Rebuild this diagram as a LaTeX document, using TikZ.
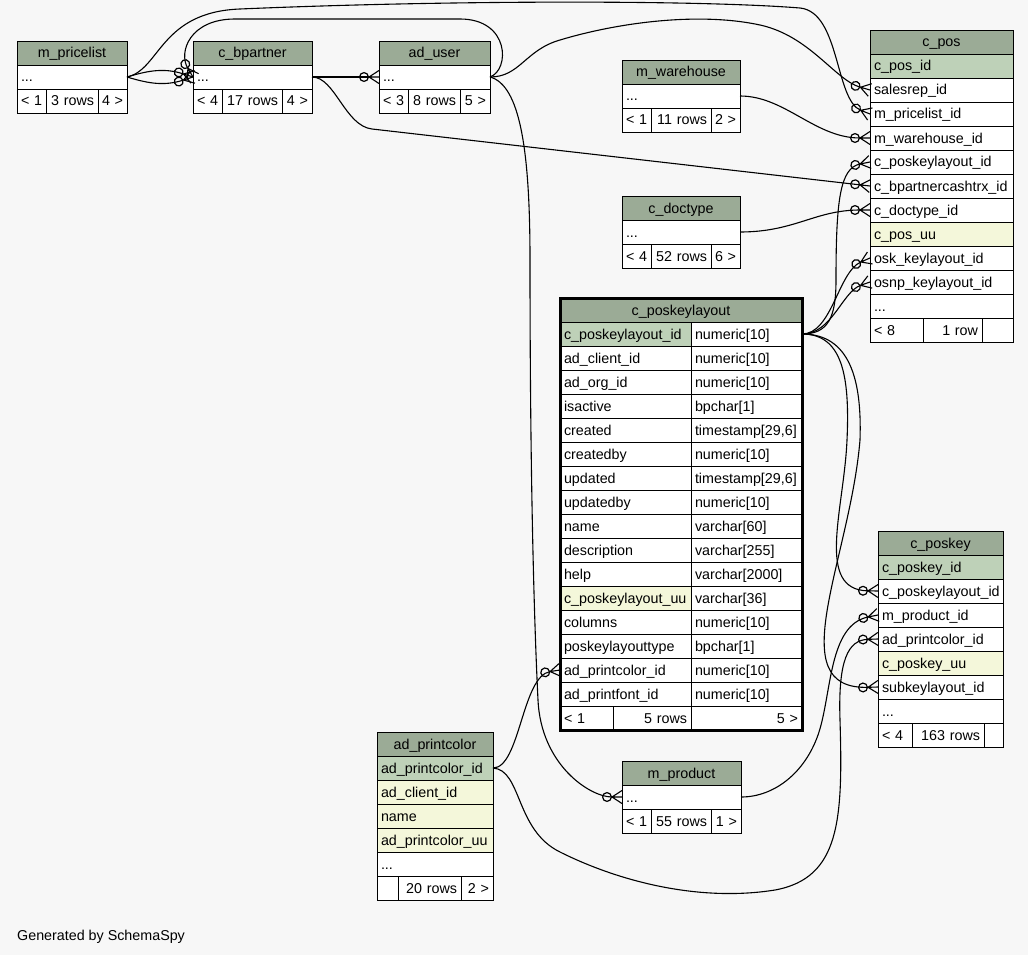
\documentclass[tikz,border=0pt]{standalone}
\usepackage{fontspec}
\setmainfont{Liberation Sans}
\usetikzlibrary{arrows.meta,positioning}
\definecolor{bgc}{HTML}{F7F7F7}
\definecolor{headc}{HTML}{9BAB96}
\definecolor{keyc}{HTML}{BED1B8}
\definecolor{uqc}{HTML}{F4F7DA}
\hyphenpenalty=10000
\exhyphenpenalty=10000
\newcommand{\tblfont}{\fontsize{14.3pt}{17pt}\selectfont}
% crow's foot for the "many" end of a relation
\pgfdeclarearrow{
  name = Crow,
  parameters = {\the\pgfarrowlength,\the\pgfarrowwidth},
  setup code = {
    \pgfarrowssettipend{0pt}
    \pgfarrowssetlineend{-\pgfarrowlength}
    \pgfarrowssetvisualbackend{-\pgfarrowlength}
    \pgfarrowssetbackend{-\pgfarrowlength}
    \pgfarrowshullpoint{0pt}{.5\pgfarrowwidth}
    \pgfarrowshullpoint{0pt}{-.5\pgfarrowwidth}
    \pgfarrowshullpoint{-\pgfarrowlength}{0pt}
    \pgfarrowssavethe\pgfarrowlength
    \pgfarrowssavethe\pgfarrowwidth
  },
  drawing code = {
    \pgfsetdash{}{0pt}
    \pgfpathmoveto{\pgfqpoint{-\pgfarrowlength}{0pt}}
    \pgfpathlineto{\pgfqpoint{0pt}{.5\pgfarrowwidth}}
    \pgfpathmoveto{\pgfqpoint{-\pgfarrowlength}{0pt}}
    \pgfpathlineto{\pgfqpoint{0pt}{0pt}}
    \pgfpathmoveto{\pgfqpoint{-\pgfarrowlength}{0pt}}
    \pgfpathlineto{\pgfqpoint{0pt}{-.5\pgfarrowwidth}}
    \pgfusepathqstroke
  },
  defaults = {length = 10pt, width = 13pt}
}

\begin{document}
\begin{tikzpicture}[x=1pt, y=-1pt]
  % cells are 24pt high, one pt per pixel of the layout
  \tikzstyle{cell}=[draw=black, fill=white, font=\tblfont, minimum height=24pt, inner xsep=4pt, inner ysep=0pt, outer sep=0pt, text height=12.5pt, text depth=2.5pt, align=left, anchor=north west]
  \tikzstyle{hdr}=[cell, fill=headc, align=center]
  \tikzstyle{keycell}=[cell, fill=keyc]
  \tikzstyle{uqcell}=[cell, fill=uqc]
  \tikzstyle{ftr}=[cell, align=right]
  \tikzstyle{fkline}=[line width=1.1pt, -{Circle[open,length=10pt,line width=1.2pt] Crow[line width=1.4pt]}]

  \fill[bgc] (0,0) rectangle (1028,955);
  \useasboundingbox (0,0) rectangle (1028,955);

  % m_pricelist
  \begin{scope}[every node/.append style={text width=102pt}]
    \node[hdr] (pl-hd) at (17,41) {m\_pricelist};
    \node[cell, below=0pt of pl-hd] (pl-dots) {...};
    \node[cell, text width=21pt] (pl-f1) at (pl-dots.south west) {<~1};
    \node[ftr, text width=44pt, right=0pt of pl-f1] (pl-f2) {3~rows};
    \node[ftr, text width=21pt, right=0pt of pl-f2] (pl-f3) {4~>};
  \end{scope}

  % c_bpartner
  \begin{scope}[every node/.append style={text width=111pt}]
    \node[hdr] (bp-hd) at (193,41) {c\_bpartner};
    \node[cell, below=0pt of bp-hd] (bp-dots) {...};
    \node[cell, text width=21pt] (bp-f1) at (bp-dots.south west) {<~4};
    \node[ftr, text width=52pt, right=0pt of bp-f1] (bp-f2) {17~rows};
    \node[ftr, text width=22pt, right=0pt of bp-f2] (bp-f3) {4~>};
  \end{scope}

  % ad_user
  \begin{scope}[every node/.append style={text width=103pt}]
    \node[hdr] (au-hd) at (379,41) {ad\_user};
    \node[cell, below=0pt of au-hd] (au-dots) {...};
    \node[cell, text width=21pt] (au-f1) at (au-dots.south west) {<~3};
    \node[ftr, text width=44pt, right=0pt of au-f1] (au-f2) {8~rows};
    \node[ftr, text width=22pt, right=0pt of au-f2] (au-f3) {5~>};
  \end{scope}

  % m_warehouse
  \begin{scope}[every node/.append style={text width=110pt}]
    \node[hdr] (wh-hd) at (622,60) {m\_warehouse};
    \node[cell, below=0pt of wh-hd] (wh-dots) {...};
    \node[cell, text width=21pt] (wh-f1) at (wh-dots.south west) {<~1};
    \node[ftr, text width=52pt, right=0pt of wh-f1] (wh-f2) {11~rows};
    \node[ftr, text width=21pt, right=0pt of wh-f2] (wh-f3) {2~>};
  \end{scope}

  % c_doctype
  \begin{scope}[every node/.append style={text width=110pt}]
    \node[hdr] (dt-hd) at (622,196) {c\_doctype};
    \node[cell, below=0pt of dt-hd] (dt-dots) {...};
    \node[cell, text width=21pt] (dt-f1) at (dt-dots.south west) {<~4};
    \node[ftr, text width=52pt, right=0pt of dt-f1] (dt-f2) {52~rows};
    \node[ftr, text width=21pt, right=0pt of dt-f2] (dt-f3) {6~>};
  \end{scope}

  % c_pos
  \begin{scope}[every node/.append style={text width=135pt}]
    \node[hdr] (pos-hd) at (870,30) {c\_pos};
    \node[keycell, below=0pt of pos-hd] (pos-id) {c\_pos\_id};
    \node[cell, below=0pt of pos-id] (pos-rep) {salesrep\_id};
    \node[cell, below=0pt of pos-rep] (pos-pl) {m\_pricelist\_id};
    \node[cell, below=0pt of pos-pl] (pos-wh) {m\_warehouse\_id};
    \node[cell, below=0pt of pos-wh] (pos-kl) {c\_poskeylayout\_id};
    \node[cell, below=0pt of pos-kl] (pos-cash) {c\_bpartnercashtrx\_id};
    \node[cell, below=0pt of pos-cash] (pos-dt) {c\_doctype\_id};
    \node[uqcell, below=0pt of pos-dt] (pos-uu) {c\_pos\_uu};
    \node[cell, below=0pt of pos-uu] (pos-osk) {osk\_keylayout\_id};
    \node[cell, below=0pt of pos-osk] (pos-osnp) {osnp\_keylayout\_id};
    \node[cell, below=0pt of pos-osnp] (pos-more) {...};
    \node[cell, text width=45pt] (pos-f1) at (pos-more.south west) {<~8};
    \node[ftr, text width=51pt, right=0pt of pos-f1] (pos-f2) {1~row};
    \node[ftr, text width=23pt, right=0pt of pos-f2] (pos-f3) {};
  \end{scope}

  % c_poskeylayout
  \node[hdr, text width=234pt] (kl-0) at (560,298) {c\_poskeylayout};
  \foreach \nm/\ty/\fc [count=\i, remember=\i as \j (initially 0)] in {
      c\_poskeylayout\_id/numeric[10]/keyc,
      ad\_client\_id/numeric[10]/white,
      ad\_org\_id/numeric[10]/white,
      isactive/bpchar[1]/white,
      created/{timestamp[29,6]}/white,
      createdby/numeric[10]/white,
      updated/{timestamp[29,6]}/white,
      updatedby/numeric[10]/white,
      name/varchar[60]/white,
      description/varchar[255]/white,
      help/varchar[2000]/white,
      c\_poskeylayout\_uu/varchar[36]/uqc,
      columns/numeric[10]/white,
      poskeylayouttype/bpchar[1]/white,
      ad\_printcolor\_id/numeric[10]/white,
      ad\_printfont\_id/numeric[10]/white}
  {
    \node[cell, fill=\fc, text width=123pt] (kl-\i) at (kl-\j.south west) {\nm};
    \node[cell, text width=103pt, right=0pt of kl-\i] (kl-\i t) {\ty};
  }
  \node[cell, text width=45pt] (kl-f1) at (kl-16.south west) {<~1};
  \node[ftr, text width=70pt, right=0pt of kl-f1] (kl-f2) {5~rows};
  \node[ftr, text width=103pt, right=0pt of kl-f2] (kl-f3) {5~>};
  \draw[line width=3pt] (kl-0.north west) rectangle (kl-f3.south east);

  % c_poskey
  \begin{scope}[every node/.append style={text width=117pt}]
    \node[hdr] (pk-hd) at (878,531) {c\_poskey};
    \node[keycell, below=0pt of pk-hd] (pk-id) {c\_poskey\_id};
    \node[cell, below=0pt of pk-id] (pk-kl) {c\_poskeylayout\_id};
    \node[cell, below=0pt of pk-kl] (pk-prod) {m\_product\_id};
    \node[cell, below=0pt of pk-prod] (pk-pc) {ad\_printcolor\_id};
    \node[uqcell, below=0pt of pk-pc] (pk-uu) {c\_poskey\_uu};
    \node[cell, below=0pt of pk-uu] (pk-sub) {subkeylayout\_id};
    \node[cell, below=0pt of pk-sub] (pk-more) {...};
    \node[cell, text width=26pt] (pk-f1) at (pk-more.south west) {<~4};
    \node[ftr, text width=64pt, right=0pt of pk-f1] (pk-f2) {163~rows};
    \node[ftr, text width=11pt, right=0pt of pk-f2] (pk-f3) {};
  \end{scope}

  % ad_printcolor
  \begin{scope}[every node/.append style={text width=108pt}]
    \node[hdr] (pc-hd) at (377,732) {ad\_printcolor};
    \node[keycell, below=0pt of pc-hd] (pc-id) {ad\_printcolor\_id};
    \node[uqcell, below=0pt of pc-id] (pc-client) {ad\_client\_id};
    \node[uqcell, below=0pt of pc-client] (pc-name) {name};
    \node[uqcell, below=0pt of pc-name] (pc-uu) {ad\_printcolor\_uu};
    \node[cell, below=0pt of pc-uu] (pc-more) {...};
    \node[cell, text width=13pt] (pc-f1) at (pc-more.south west) {};
    \node[ftr, text width=55pt, right=0pt of pc-f1] (pc-f2) {20~rows};
    \node[ftr, text width=24pt, right=0pt of pc-f2] (pc-f3) {2~>};
  \end{scope}

  % m_product
  \begin{scope}[every node/.append style={text width=111pt}]
    \node[hdr] (pr-hd) at (622,761) {m\_product};
    \node[cell, below=0pt of pr-hd] (pr-dots) {...};
    \node[cell, text width=21pt] (pr-f1) at (pr-dots.south west) {<~1};
    \node[ftr, text width=52pt, right=0pt of pr-f1] (pr-f2) {55~rows};
    \node[ftr, text width=22pt, right=0pt of pr-f2] (pr-f3) {1~>};
  \end{scope}

  % relations, parent row -> child row
  \draw[fkline] (pl-dots.east) .. controls (150,70) and (165,68) .. (bp-dots.west);
  \draw[fkline] (pl-dots.east) .. controls (150,84) and (165,86) .. (bp-dots.west);
  \draw[fkline] (au-dots.east) .. controls (510,70) and (510,19) .. (460,19)
      -- (235,19) .. controls (190,19) and (178,52) .. (bp-dots.west);
  \draw[fkline] (pl-dots.east) .. controls (160,70) and (160,12) .. (240,9)
      .. controls (450,0) and (700,0) .. (800,8)
      .. controls (840,12) and (835,100) .. (pos-pl.west);
  \draw[fkline] (au-dots.east) .. controls (520,77) and (525,50) .. (560,40)
      .. controls (620,22) and (700,12) .. (760,25)
      .. controls (810,36) and (835,80) .. (pos-rep.west);
  \draw[fkline] (bp-dots.east) -- (au-dots.west);
  \draw[fkline] (bp-dots.east) .. controls (335,77) and (345,126) .. (372,129) -- (pos-cash.west);
  \draw[fkline] (au-dots.east) .. controls (520,85) and (530,150) .. (530,260)
      .. controls (530,500) and (535,640) .. (538,700)
      .. controls (541,765) and (590,797) .. (pr-dots.west);
  \draw[fkline] (wh-dots.east) .. controls (785,96) and (815,138) .. (pos-wh.west);
  \draw[fkline] (dt-dots.east) .. controls (795,232) and (815,210) .. (pos-dt.west);

  \draw[fkline] (kl-1t.east) .. controls (828,334) and (836,318) .. (836,280)
      .. controls (836,200) and (840,168) .. (pos-kl.west);
  \draw[fkline] (kl-1t.east) .. controls (832,334) and (838,272) .. (pos-osk.west);
  \draw[fkline] (kl-1t.east) .. controls (832,334) and (842,292) .. (pos-osnp.west);
  \draw[fkline] (kl-1t.east) .. controls (842,334) and (850,375) .. (847,440)
      .. controls (844,510) and (815,590) .. (pk-kl.west);
  \draw[fkline] (kl-1t.east) .. controls (850,334) and (862,380) .. (860,440)
      .. controls (850,560) and (780,690) .. (pk-sub.west);

  \draw[fkline] (pc-id.east) .. controls (520,768) and (522,676) .. (kl-15.west);
  \draw[fkline] (pc-id.east) .. controls (522,770) and (515,830) .. (560,852)
      .. controls (620,882) and (700,902) .. (775,890)
      .. controls (840,878) and (843,820) .. (840,720)
      .. controls (838,660) and (848,640) .. (pk-pc.west);
  \draw[fkline] (pr-dots.east) .. controls (775,797) and (805,772) .. (818,735)
      .. controls (832,695) and (828,625) .. (pk-prod.west);

  \node[font=\tblfont, inner sep=0pt, anchor=base west] (gen) at (17,940) {Generated by SchemaSpy};
\end{tikzpicture}
\end{document}
